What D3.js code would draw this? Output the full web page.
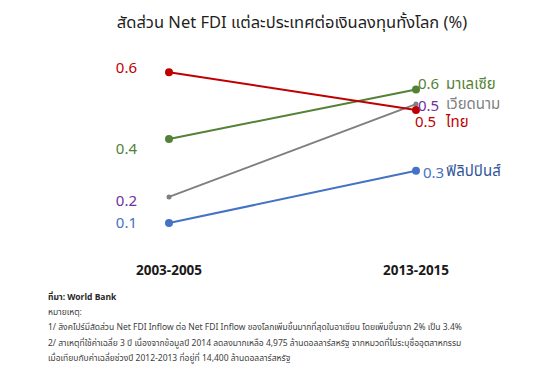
<!DOCTYPE html>
<html>
<head>
<meta charset="utf-8">
<script src="https://cdn.jsdelivr.net/npm/d3@7"></script>
<style>
  body { margin: 0; background: #fff; }
  svg text { font-family: "Noto Sans Thai", "Noto Sans", "Open Sans", sans-serif; }
</style>
</head>
<body>
<div id="chart"></div>
<script>
// data
var periods = ["2003-2005", "2013-2015"];
var countries = ["ไทย", "มาเลเซีย", "เวียดนาม", "ฟิลิปปินส์"];
var start = [0.62, 0.39, 0.19, 0.10];
var end = [0.49, 0.56, 0.51, 0.28];
var lineColors = ["#C00000", "#538135", "#7F7F7F", "#4472C4"];
var valueColors = ["#C00000", "#538135", "#7030A0", "#4472C4"];
var nameColors = ["#C00000", "#538135", "#7F7F7F", "#2F5597"];
var footNotes = [
    "หมายเหตุ:",
    "1/ สิงคโปร์มีสัดส่วน Net FDI Inflow ต่อ Net FDI Inflow ของโลกเพิ่มขึ้นมากที่สุดในอาเซียน โดยเพิ่มขึ้นจาก 2% เป็น 3.4%",
    "2/ สาเหตุที่ใช้ค่าเฉลี่ย 3 ปี เนื่องจากข้อมูลปี 2014 ลดลงมากเหลือ 4,975 ล้านดอลลาร์สหรัฐ จากหมวดที่ไม่ระบุชื่ออุตสาหกรรม",
    "เมื่อเทียบกับค่าเฉลี่ยช่วงปี 2012-2013 ที่อยู่ที่ 14,400 ล้านดอลลาร์สหรัฐ"
];

// label nudges (px), so labels don't collide
var leftDy = [-4, 10, 4, 0];
var rightDy = [12, -6, 2, 2];
var rightDx = [-1, 2, 2, 7];
var nameDy = [12, -6, 0, 0];

var width = 550, height = 377;

var svg = d3.select("#chart").append("svg")
    .attr("width", width)
    .attr("height", height);

var x = d3.scalePoint().domain(periods).range([169, 416]);
var y = d3.scaleLinear().domain([0, 0.7]).range([252, 49]);
var fmt = d3.format(".1f");

svg.append("text")
    .attr("x", 292)
    .attr("y", 22)
    .attr("dy", "0.35em")
    .attr("text-anchor", "middle")
    .attr("font-size", 16.5)
    .attr("fill", "#1f1f1f")
    .text("สัดส่วน Net FDI แต่ละประเทศต่อเงินลงทุนทั้งโลก (%)");

var rows = countries.map(function(c, i) {
    return { name: c, i: i, vals: [start[i], end[i]] };
});

// gray line first so the others sit on top
var order = [2, 3, 1, 0];

var line = d3.line()
    .x(function(d, j) { return x(periods[j]); })
    .y(function(d) { return y(d); });

order.forEach(function(i) {
    var d = rows[i];
    var r = i === 2 ? 2.5 : 4;
    svg.append("path")
        .attr("d", line(d.vals))
        .attr("fill", "none")
        .attr("stroke", lineColors[i])
        .attr("stroke-width", 2);
    svg.selectAll(".dot" + i)
        .data(d.vals)
        .join("circle")
        .attr("cx", function(v, j) { return x(periods[j]); })
        .attr("cy", function(v) { return y(v); })
        .attr("r", r)
        .attr("fill", lineColors[i]);
});

// left values
svg.selectAll(".lv")
    .data(rows)
    .join("text")
    .attr("x", x(periods[0]) - 32)
    .attr("y", function(d) { return y(d.vals[0]) + leftDy[d.i]; })
    .attr("dy", "0.35em")
    .attr("text-anchor", "end")
    .attr("font-size", 15)
    .attr("fill", function(d) { return valueColors[d.i]; })
    .text(function(d) { return fmt(d.vals[0]); });

// right values
svg.selectAll(".rv")
    .data(rows)
    .join("text")
    .attr("x", function(d) { return x(periods[1]) + rightDx[d.i]; })
    .attr("y", function(d) { return y(d.vals[1]) + rightDy[d.i]; })
    .attr("dy", "0.35em")
    .attr("font-size", 15)
    .attr("fill", function(d) { return valueColors[d.i]; })
    .text(function(d) { return fmt(d.vals[1]); });

// country names
svg.selectAll(".nm")
    .data(rows)
    .join("text")
    .attr("x", x(periods[1]) + 30)
    .attr("y", function(d) { return y(d.vals[1]) + nameDy[d.i]; })
    .attr("dy", "0.35em")
    .attr("font-size", 15)
    .attr("fill", function(d) { return nameColors[d.i]; })
    .text(function(d) { return d.name; });

// period labels
svg.selectAll(".per")
    .data(periods)
    .join("text")
    .attr("x", function(d) { return x(d); })
    .attr("y", 270)
    .attr("dy", "0.35em")
    .attr("text-anchor", "middle")
    .attr("font-size", 13.5)
    .attr("font-weight", "bold")
    .attr("fill", "#1a1a1a")
    .text(function(d) { return d; });

// source + notes
svg.append("text")
    .attr("x", 48)
    .attr("y", 297)
    .attr("dy", "0.35em")
    .attr("font-size", 8.5)
    .attr("font-weight", "bold")
    .attr("fill", "#262626")
    .text("ที่มา: World Bank");

svg.selectAll(".note")
    .data(footNotes)
    .join("text")
    .attr("x", 48)
    .attr("y", function(d, i) { return 312 + i * 15.3; })
    .attr("dy", "0.35em")
    .attr("font-size", 8.5)
    .attr("fill", "#404040")
    .text(function(d) { return d; });
</script>
</body>
</html>
